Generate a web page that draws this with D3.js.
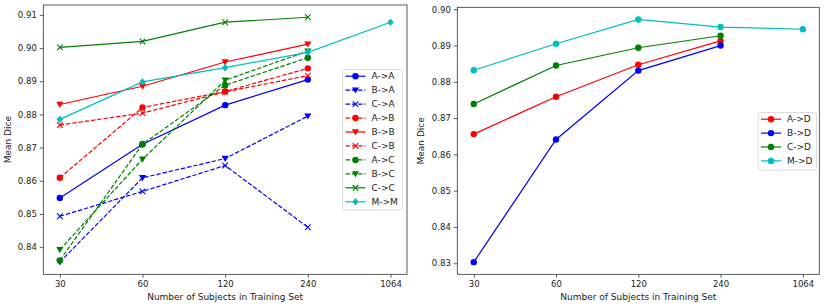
<!DOCTYPE html>
<html><head><meta charset="utf-8">
<script src="https://cdn.jsdelivr.net/npm/d3@7"></script>
<style>body{margin:0;background:#fff}svg{display:block;font-family:"DejaVu Sans",sans-serif}</style>
</head><body><svg id="c" width="830" height="306"></svg>
<script>
const xLabels = ["30", "60", "120", "240", "1064"];
const leftYTicks = [0.84, 0.85, 0.86, 0.87, 0.88, 0.89, 0.90, 0.91];
const rightYTicks = [0.83, 0.84, 0.85, 0.86, 0.87, 0.88, 0.89, 0.90];

const leftNames = ["A->A","B->A","C->A","A->B","B->B","C->B","A->C","B->C","C->C","M->M"];
const aToA = [0.8548, 0.8710, 0.8828, 0.8905];
const bToA = [0.8355, 0.8609, 0.8667, 0.8795];
const cToA = [0.8493, 0.8568, 0.8646, 0.8460];
const aToB = [0.8609, 0.8821, 0.8869, 0.8939];
const bToB = [0.8830, 0.8885, 0.8958, 0.9012];
const cToB = [0.8768, 0.8804, 0.8868, 0.8917];
const aToC = [0.8360, 0.8710, 0.8888, 0.8971];
const bToC = [0.8392, 0.8665, 0.8903, 0.8991];
const cToC = [0.9002, 0.9020, 0.9078, 0.9093];
const mToM = [0.8785, 0.8898, 0.8941, 0.8987, 0.9078];

const rightNames = ["A->D","B->D","C->D","M->D"];
const aToD = [0.8656, 0.8759, 0.8847, 0.8913];
const bToD = [0.8303, 0.8641, 0.8831, 0.8900];
const cToD = [0.8739, 0.8845, 0.8894, 0.8927];
const mToD = [0.8832, 0.8905, 0.8972, 0.8951, 0.8945];

const B = "#0000ff", R = "#ff0000", G = "#008000", C = "#00bfbf";
const leftStyles = [
  {c:B, dash:false, m:"o"}, {c:B, dash:true, m:"v"}, {c:B, dash:true, m:"x"},
  {c:R, dash:true, m:"o"}, {c:R, dash:false, m:"v"}, {c:R, dash:true, m:"x"},
  {c:G, dash:true, m:"o"}, {c:G, dash:true, m:"v"}, {c:G, dash:false, m:"x"},
  {c:C, dash:false, m:"D"}
];
const rightStyles = [
  {c:R, dash:false, m:"o"}, {c:B, dash:false, m:"o"}, {c:G, dash:false, m:"o"}, {c:C, dash:false, m:"o"}
];
const leftData = [aToA,bToA,cToA,aToB,bToB,cToB,aToC,bToC,cToC,mToM];
const rightData = [aToD,bToD,cToD,mToD];

const svg = d3.select("#c");
const FS_TICK = 8.5;
const FS_LAB = 9;
const FS_LEG = 9;
const LW = 1.2;

function marker(g, type, color, x, y) {
  if (type === "o") {
    g.append("circle").attr("cx", x).attr("cy", y).attr("r", 3.2).attr("fill", color);
  } else if (type === "v") {
    const s = 3.6;
    g.append("path").attr("d", `M${x-s},${y-s*0.75}L${x+s},${y-s*0.75}L${x},${y+s*0.95}Z`).attr("fill", color);
  } else if (type === "x") {
    const s = 2.8;
    g.append("path").attr("d", `M${x-s},${y-s}L${x+s},${y+s}M${x-s},${y+s}L${x+s},${y-s}`)
      .attr("stroke", color).attr("stroke-width", 1.1).attr("fill", "none");
  } else if (type === "D") {
    const s = 3.8;
    g.append("path").attr("d", `M${x},${y-s}L${x+s*0.85},${y}L${x},${y+s}L${x-s*0.85},${y}Z`).attr("fill", color);
  }
}

function panel(opts) {
  const {x0, x1, y0, y1, data, styles, names, yTicks, legend} = opts;
  const all = data.flat();
  const [mn, mx] = d3.extent(all);
  const pad = (mx - mn) * 0.05;
  const x = d3.scaleLinear().domain([-0.2, 4.2]).range([x0, x1]);
  const y = d3.scaleLinear().domain([mn - pad, mx + pad]).range([y1, y0]);
  const g = svg.append("g");

  const yAxis = d3.axisLeft(y).tickValues(yTicks).tickFormat(d3.format(".2f")).tickSize(3.5).tickPadding(3);
  const ya = g.append("g").attr("transform", `translate(${x0},0)`).call(yAxis);
  const xAxis = d3.axisBottom(x).tickValues(d3.range(xLabels.length)).tickFormat(i => xLabels[i]).tickSize(3.5).tickPadding(3);
  const xa = g.append("g").attr("transform", `translate(0,${y1})`).call(xAxis);
  [ya, xa].forEach(a => {
    a.select(".domain").remove();
    a.selectAll("text").attr("font-size", FS_TICK).attr("fill", "#222").attr("font-family", "DejaVu Sans");
    a.selectAll("line").attr("stroke", "#333").attr("stroke-width", 0.8);
  });

  const line = d3.line().x((d, i) => x(i)).y(d => y(d));
  data.forEach((vals, k) => {
    const st = styles[k];
    const lg = g.append("g");
    lg.append("path").attr("d", line(vals)).attr("fill", "none").attr("stroke", st.c)
      .attr("stroke-width", LW).attr("stroke-dasharray", st.dash ? "4.4,1.9" : null);
    vals.forEach((v, i) => marker(lg, st.m, st.c, x(i), y(v)));
  });

  g.append("rect").attr("x", x0).attr("y", y0).attr("width", x1 - x0).attr("height", y1 - y0)
    .attr("fill", "none").attr("stroke", "#333").attr("stroke-width", 0.8);

  g.append("text").attr("x", (x0 + x1) / 2).attr("y", y1 + 25.8).attr("text-anchor", "middle")
    .attr("font-size", FS_LAB).attr("fill", "#222").text("Number of Subjects in Training Set");
  g.append("text").attr("transform", `translate(${opts.ylabX},${(y0 + y1) / 2}) rotate(-90)`)
    .attr("text-anchor", "middle").attr("dy", "0.35em").attr("font-size", FS_LAB).attr("fill", "#222").text("Mean Dice");

  const L = legend;
  const lg = g.append("g");
  lg.append("rect").attr("x", L.x).attr("y", L.y).attr("width", L.w).attr("height", L.h)
    .attr("rx", 2).attr("fill", "#fff").attr("fill-opacity", 0.85).attr("stroke", "#d4d4d4").attr("stroke-width", 0.8);
  names.forEach((n, k) => {
    const st = styles[k];
    const yy = L.y + L.first + k * L.step;
    lg.append("line").attr("x1", L.x + 3).attr("x2", L.x + 23).attr("y1", yy).attr("y2", yy)
      .attr("stroke", st.c).attr("stroke-width", LW).attr("stroke-dasharray", st.dash ? "4.4,1.9" : null);
    marker(lg, st.m, st.c, L.x + 13, yy);
    lg.append("text").attr("x", L.x + 29).attr("y", yy).attr("dy", "0.35em").attr("font-size", FS_LEG)
      .attr("fill", "#222").text(n);
  });
}

panel({x0: 43.3, x1: 407, y0: 5, y1: 274.3, data: leftData, styles: leftStyles, names: leftNames,
  yTicks: leftYTicks, ylabX: 7.5,
  legend: {x: 342.5, y: 69.5, w: 60, h: 140.5, first: 6.7, step: 13.95}});
panel({x0: 457.3, x1: 819.3, y0: 7.3, y1: 274.3, data: rightData, styles: rightStyles, names: rightNames,
  yTicks: rightYTicks, ylabX: 421,
  legend: {x: 758, y: 112.5, w: 58.5, h: 57.5, first: 6.7, step: 13.9}});
</script></body></html>
